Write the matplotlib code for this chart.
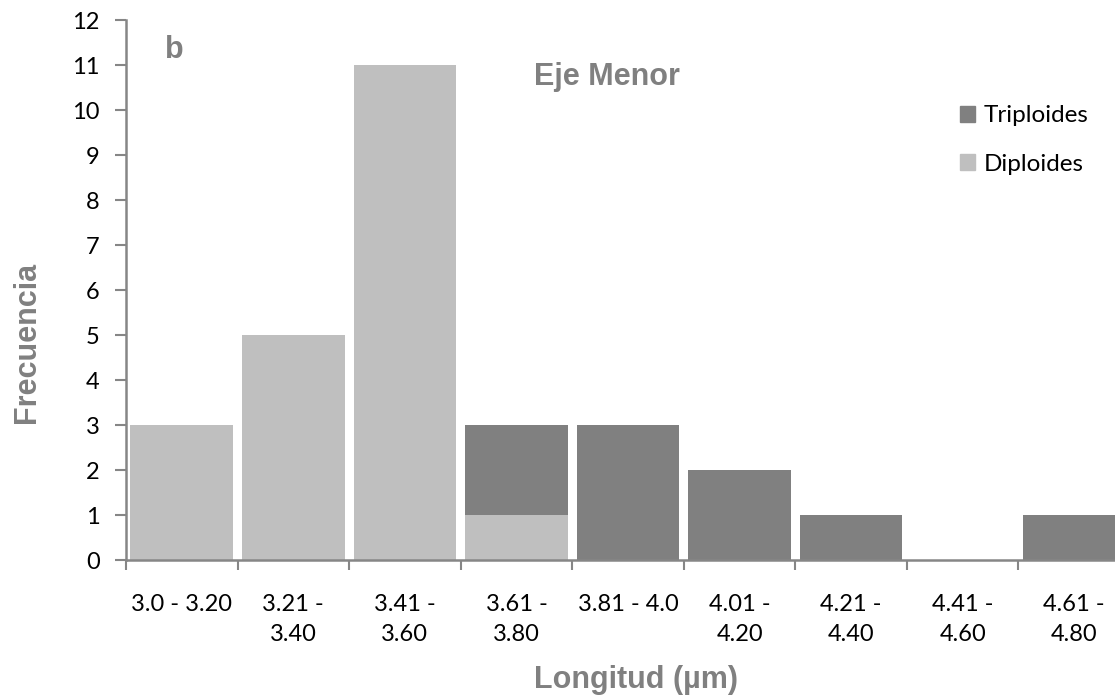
import numpy as np
import matplotlib.pyplot as plt
from matplotlib.patches import Patch

# rangos de longitud (eje menor)
categorias = ['3.0 - 3.20', '3.21 -\n3.40', '3.41 -\n3.60', '3.61 -\n3.80', '3.81 - 4.0',
              '4.01 -\n4.20', '4.21 -\n4.40', '4.41 -\n4.60', '4.61 -\n4.80']
diploides = [3, 5, 11, 1, 0, 0, 0, 0, 0]
triploides = [0, 0, 0, 2, 3, 2, 1, 0, 1]

gris_claro = '#BFBFBF'
gris_oscuro = '#808080'
gris_eje = '#868686'

fig = plt.figure(figsize=(11.15, 6.98), dpi=100)
# el grafico original esta recortado por la derecha
ax = fig.add_axes([0.113, 0.197, 0.9005, 0.774])

x = np.arange(len(categorias))
ax.bar(x, diploides, width=0.92, color=gris_claro, linewidth=0)
ax.bar(x, triploides, bottom=diploides, width=0.92, color=gris_oscuro, linewidth=0)

ax.set_xlim(-0.5, len(categorias) - 0.5)
ax.set_ylim(0, 12)
ax.set_yticks(range(0, 13))

for s in ['top', 'right']:
    ax.spines[s].set_visible(False)
for s in ['left', 'bottom']:
    ax.spines[s].set_color(gris_eje)
    ax.spines[s].set_linewidth(1.8)

# marcas del eje x entre categorias
ax.set_xticks(np.arange(-0.5, len(categorias), 1.0))
ax.set_xticklabels([])
ax.set_xticks(x, minor=True)
ax.set_xticklabels(categorias, minor=True, fontsize=17, family='Lato', linespacing=1.55)
ax.tick_params(axis='x', which='major', length=7, width=1.5, color=gris_eje, direction='out')
ax.tick_params(axis='x', which='minor', length=0, pad=24)
ax.tick_params(axis='y', length=8, width=1.5, color=gris_eje, labelsize=17, pad=11)
for lab in ax.get_yticklabels():
    lab.set_family('Lato')

fig.text(0.024, 0.509, 'Frecuencia', rotation=90, fontsize=22, fontweight='bold',
         color=gris_oscuro, family='Liberation Sans', ha='center', va='center')
fig.text(0.570, 0.026, 'Longitud (µm)', fontsize=22, fontweight='bold', color=gris_oscuro,
         family='Liberation Sans', ha='center', va='center')
fig.text(0.156, 0.928, 'b', fontsize=22, fontweight='bold',
         color=gris_oscuro, family='Liberation Sans', ha='center', va='center')
fig.text(0.544, 0.889, 'Eje Menor', fontsize=22, fontweight='bold',
         color=gris_oscuro, family='Liberation Sans', ha='center', va='center')

handles = [Patch(color=gris_oscuro, label='Triploides'), Patch(color=gris_claro, label='Diploides')]
fig.legend(handles=handles, loc='upper left', bbox_to_anchor=(0.861, 0.849), frameon=False,
           prop={'family': 'Lato', 'size': 17.5}, handlelength=0.62, handleheight=0.62,
           handletextpad=0.35, labelspacing=1.12, borderpad=0, borderaxespad=0)

fig.savefig('out.png', dpi=100)
